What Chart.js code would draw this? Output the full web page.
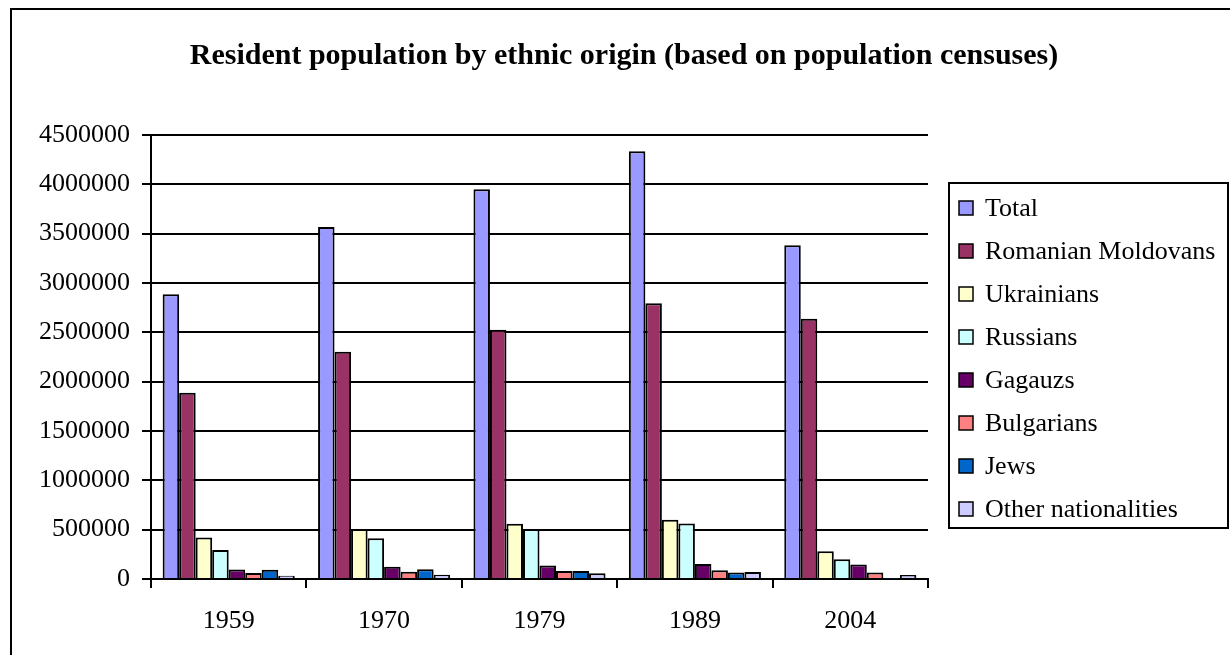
<!DOCTYPE html>
<html>
<head>
<meta charset="utf-8">
<script src="https://cdn.jsdelivr.net/npm/chart.js@4.4.0/dist/chart.umd.min.js"></script>
<style>
  html, body { margin: 0; padding: 0; background: #fff; }
  #wrap { position: relative; width: 1230px; height: 655px; }
</style>
</head>
<body>
<div id="wrap"><canvas id="c" width="1230" height="655"></canvas></div>
<script>
// Census years and resident population by ethnic origin
const years = ['1959', '1970', '1979', '1989', '2004'];
const total = [2885000, 3568000, 3950000, 4335000, 3383000];
const romanianMoldovans = [1887000, 2304000, 2526000, 2795000, 2638000];
const ukrainians = [421000, 507000, 561000, 600000, 282000];
const russians = [293000, 414000, 506000, 562000, 201000];
const gagauzs = [96000, 125000, 138000, 153000, 147000];
const bulgarians = [62000, 74000, 81000, 88000, 66000];
const jews = [95000, 98000, 80000, 66000, 3600];
const others = [33000, 44000, 59000, 71000, 40000];

const seriesNames = ['Total', 'Romanian Moldovans', 'Ukrainians', 'Russians', 'Gagauzs', 'Bulgarians', 'Jews', 'Other nationalities'];
const seriesValues = [total, romanianMoldovans, ukrainians, russians, gagauzs, bulgarians, jews, others];
const seriesColors = ['#9999FF', '#993366', '#FFFFCC', '#CCFFFF', '#660066', '#FF8080', '#0066CC', '#CCCCFF'];

const yMin = 0, yMax = 4500000, yStep = 500000;
const chartTitle = 'Resident population by ethnic origin (based on population censuses)';

const SERIF = '"Liberation Serif", "Times New Roman", serif';

// Frame, title and legend box drawn around the plot
const decorations = {
  id: 'decorations',
  afterDraw(chart) {
    const ctx = chart.ctx;
    ctx.save();
    // outer frame (left and top edges)
    ctx.strokeStyle = '#000';
    ctx.lineWidth = 2;
    ctx.beginPath();
    ctx.moveTo(11, 655);
    ctx.lineTo(11, 9);
    ctx.lineTo(1230, 9);
    ctx.stroke();

    // title
    ctx.fillStyle = '#000';
    ctx.font = 'bold 30px ' + SERIF;
    ctx.textAlign = 'center';
    ctx.textBaseline = 'middle';
    ctx.fillText(chartTitle, 624, 56);

    // legend
    ctx.lineWidth = 2;
    ctx.strokeRect(949, 183, 279, 345);
    ctx.font = '26px ' + SERIF;
    ctx.textAlign = 'left';
    chart.data.datasets.forEach((ds, i) => {
      const cy = 208 + i * 43;
      ctx.fillStyle = ds.backgroundColor;
      ctx.fillRect(959, cy - 7, 14, 14);
      ctx.lineWidth = 1.5;
      ctx.strokeStyle = '#000';
      ctx.strokeRect(959, cy - 7, 14, 14);
      ctx.fillStyle = '#000';
      ctx.fillText(ds.label, 985, cy + 1);
    });
    ctx.restore();
  }
};

const datasets = seriesNames.map((name, i) => ({
  label: name,
  data: seriesValues[i],
  backgroundColor: seriesColors[i],
  borderColor: '#000',
  borderWidth: 2,
  categoryPercentage: 0.85,
  barPercentage: 1.0
}));

new Chart(document.getElementById('c'), {
  type: 'bar',
  data: { labels: years, datasets },
  options: {
    responsive: false,
    animation: false,
    layout: { padding: { top: 135, right: 302, left: 0, bottom: 0 } },
    plugins: {
      legend: { display: false },
      title: { display: false },
      tooltip: { enabled: false }
    },
    scales: {
      x: {
        afterFit(scale) { scale.height = 76; },
        grid: {
          offset: true,
          drawOnChartArea: false,
          drawTicks: true,
          tickLength: 9,
          color: '#000',
          lineWidth: 2
        },
        border: { display: true, color: '#000', width: 2 },
        ticks: {
          color: '#000',
          font: { family: SERIF, size: 26 },
          padding: 18
        }
      },
      y: {
        min: yMin,
        max: yMax,
        afterFit(scale) { scale.width = 151; },
        grid: {
          color: '#000',
          lineWidth: 2,
          tickLength: 9,
          drawTicks: true
        },
        border: { display: true, color: '#000', width: 2 },
        ticks: {
          stepSize: yStep,
          color: '#000',
          font: { family: SERIF, size: 26 },
          padding: 12,
          callback: (v) => String(v)
        }
      }
    }
  },
  plugins: [decorations]
});
</script>
</body>
</html>
